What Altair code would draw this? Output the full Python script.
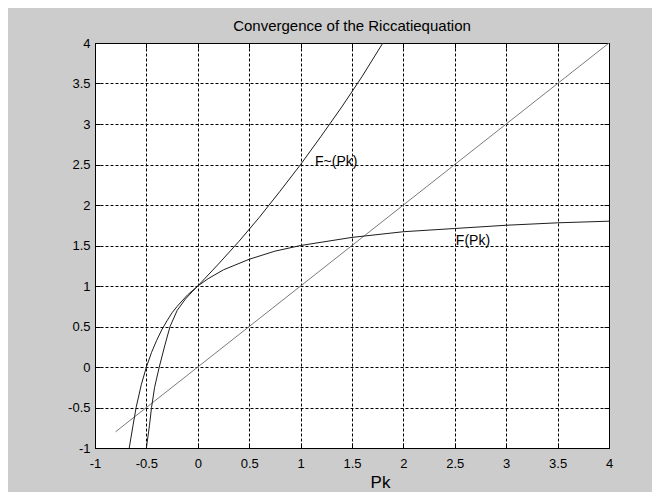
import altair as alt
import pandas as pd

# Series
ident_x = [-0.8, 4.0]
ident_y = [-0.8, 4.0]

F_x = [-0.667, -0.63, -0.6, -0.55, -0.5, -0.45, -0.4, -0.35, -0.3, -0.25, -0.2, -0.1,
       0.0, 0.1, 0.25, 0.5, 0.75, 1.0, 1.5, 2.0, 2.5, 3.0, 3.5, 4.0]
F_y = [-1.0, -0.72, -0.5, -0.22, 0.0, 0.18, 0.33, 0.46, 0.57, 0.67, 0.75, 0.89,
       1.0, 1.09, 1.2, 1.33, 1.43, 1.5, 1.6, 1.67, 1.71, 1.75, 1.78, 1.8]

Ft_x = [-0.5, -0.47, -0.45, -0.42, -0.375, -0.32, -0.27, -0.2, -0.12, -0.05, 0.0,
        0.2, 0.4, 0.6, 0.8, 1.0, 1.2, 1.4, 1.6, 1.8]
Ft_y = [-1.0, -0.72, -0.5, -0.25, 0.0, 0.27, 0.5, 0.7, 0.84, 0.935, 1.0,
        1.27, 1.55, 1.85, 2.17, 2.5, 2.85, 3.21, 3.59, 4.0]

label_text = ["F~(Pk)", "F(Pk)"]
label_x = [1.14, 2.51]
label_y = [2.53, 1.56]

tick_values = [-1, -0.5, 0, 0.5, 1, 1.5, 2, 2.5, 3, 3.5, 4]
title_text = "Convergence of the Riccatiequation"
x_title = "Pk"

series_names = ["identity", "F", "Ftilde"]
series_colors = ["#7a7a7a", "#1e1e1e", "#1e1e1e"]

rows = []
for name, xs, ys in [("identity", ident_x, ident_y), ("F", F_x, F_y), ("Ftilde", Ft_x, Ft_y)]:
    for i, (a, b) in enumerate(zip(xs, ys)):
        rows.append({"series": name, "x": a, "y": b, "order": i})
df = pd.DataFrame(rows)
labels_df = pd.DataFrame({"text": label_text, "x": label_x, "y": label_y})

W, H = 514, 405
FONT = "Liberation Sans"

xscale = alt.Scale(domain=[-1, 4], nice=False, zero=False)
yscale = alt.Scale(domain=[-1, 4], nice=False, zero=False)

lbl = "'' + datum.value"

main_x_axis = alt.Axis(values=tick_values, labelExpr=lbl, ticks=False, tickSize=0, domain=False,
                       grid=True, gridColor="black", gridDash=[3, 2], gridOpacity=1, gridWidth=1,
                       labelFont=FONT, labelFontSize=13, labelColor="black", labelPadding=9,
                       labelFlush=False, labelOverlap=False,
                       title=x_title, titleFont=FONT, titleFontSize=17, titleFontWeight="normal",
                       titleColor="black", titleX=285, titleY=34, titleBaseline="middle",
                       titleAlign="center")
main_y_axis = alt.Axis(values=tick_values, labelExpr=lbl, ticks=False, tickSize=0, domain=False,
                       grid=True, gridColor="black", gridDash=[3, 2], gridOpacity=1, gridWidth=1,
                       labelFont=FONT, labelFontSize=13, labelColor="black", labelPadding=5,
                       labelFlush=False, labelOverlap=False, title=None)

def tick_axis(orient, offset):
    return alt.Axis(orient=orient, offset=offset, values=tick_values, labels=False, ticks=True,
                    tickSize=5, tickColor="black", tickWidth=1, domain=False, grid=False, title=None)

lines = alt.Chart(df).mark_line(strokeWidth=1, clip=True).encode(
    x=alt.X("x:Q", scale=xscale, axis=main_x_axis),
    y=alt.Y("y:Q", scale=yscale, axis=main_y_axis),
    detail="series:N",
    order="order:Q",
    color=alt.Color("series:N", scale=alt.Scale(domain=series_names, range=series_colors), legend=None),
)

ticks_b = alt.Chart(df).mark_point(opacity=0).encode(
    x=alt.X("x:Q", scale=xscale, axis=tick_axis("top", -H)),
    y=alt.Y("y:Q", scale=yscale, axis=tick_axis("right", -W)),
)
ticks_c = alt.Chart(df).mark_point(opacity=0).encode(
    x=alt.X("x:Q", scale=xscale, axis=tick_axis("bottom", -H)),
    y=alt.Y("y:Q", scale=yscale, axis=tick_axis("left", -W)),
)

texts = alt.Chart(labels_df).mark_text(align="left", baseline="middle", font=FONT, fontSize=14,
                                       color="black").encode(
    x=alt.X("x:Q", scale=xscale, axis=None),
    y=alt.Y("y:Q", scale=yscale, axis=None),
    text="text:N",
)

chart = alt.layer(lines, ticks_b, ticks_c, texts).resolve_axis(
    x="independent", y="independent"
).properties(
    width=W, height=H,
    title=alt.TitleParams(title_text, font=FONT, fontSize=15, fontWeight="normal", color="black",
                          anchor="middle", frame="group", offset=3),
    autosize=alt.AutoSizeParams(type="none"),
    padding={"left": 87, "top": 35, "right": 43, "bottom": 44},
    background="#cccccc",
).configure_view(
    fill="white", stroke="black", strokeWidth=1
)

chart.save("out.html", embed_options={"renderer": "svg", "actions": False})
